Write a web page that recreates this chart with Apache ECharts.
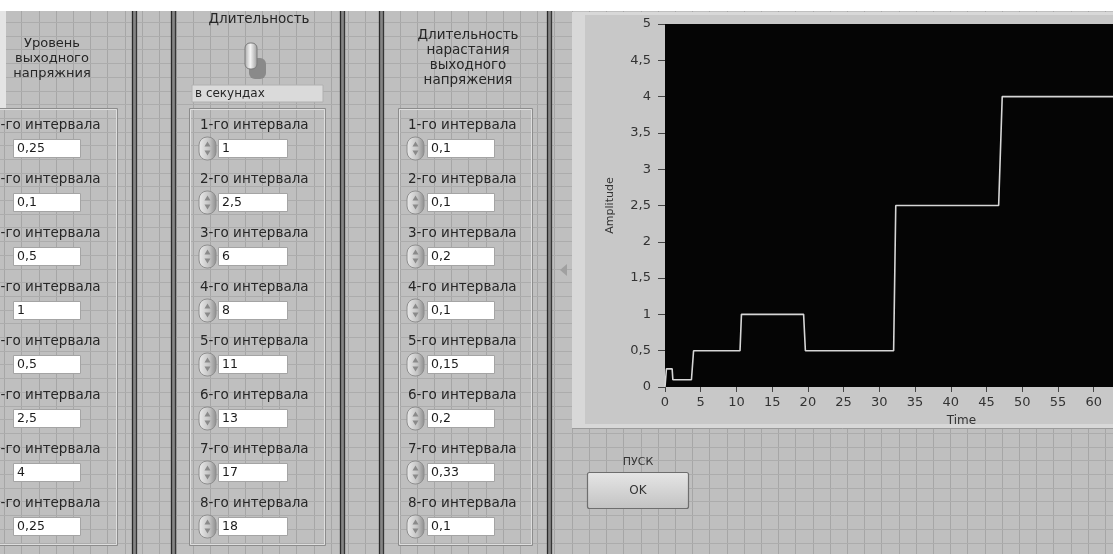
<!DOCTYPE html>
<html><head><meta charset="utf-8">
<script src="https://cdn.jsdelivr.net/npm/echarts@6/dist/echarts.min.js"></script>
<style>html,body{margin:0;padding:0;background:#fff}#c{width:1113px;height:554px}</style>
</head><body><div id="c"></div>
<script>
// ---- data ----
const timeValues      = [0, 0.2, 1.0, 1.1, 3.7, 4.0, 10.5, 10.7, 19.4, 19.65, 32.0, 32.3, 46.7, 47.2, 64.3, 64.4, 83];
const amplitudeValues = [0, 0.25, 0.25, 0.1, 0.1, 0.5, 0.5, 1, 1, 0.5, 0.5, 2.5, 2.5, 4, 4, 0.25, 0.25];
const intervalLabels  = ['1-го интервала','2-го интервала','3-го интервала','4-го интервала','5-го интервала','6-го интервала','7-го интервала','8-го интервала'];
const levelValues     = ['0,25','0,1','0,5','1','0,5','2,5','4','0,25'];
const durationValues  = ['1','2,5','6','8','11','13','17','18'];
const riseValues      = ['0,1','0,1','0,2','0,1','0,15','0,2','0,33','0,1'];
const levelTitle      = 'Уровень\nвыходного\nнапряжния';
const durationTitle   = 'Длительность';
const unitText        = 'в секундах';
const riseTitle       = 'Длительность\nнарастания\nвыходного\nнапряжения';
const startLabel      = 'ПУСК';
const okLabel         = 'OK';
const xName = 'Time', yName = 'Amplitude';

const W = 1113, H = 554;
const FONT = '"DejaVu Sans", Verdana, sans-serif';
const g = [];
// background
g.push({type:'rect',silent:true,z:-30,shape:{x:0,y:0,width:W,height:H},style:{fill:'#ffffff'}});
g.push({type:'rect',silent:true,z:-29,shape:{x:0,y:11,width:W,height:H-11},style:{fill:'#bfbfbf'}});
for (let x = 4.1; x < W; x += 17.2) {
  const px = Math.round(x) + 0.5;
  g.push({type:'line',silent:true,z:-28,shape:{x1:px,y1:11,x2:px,y2:H},style:{stroke:'#a6a6a6',lineWidth:1}});
}
for (let y = 22; y < H; y += 13.7) {
  const py = Math.round(y) + 0.5;
  g.push({type:'line',silent:true,z:-28,shape:{x1:0,y1:py,x2:W,y2:py},style:{stroke:'#acacac',lineWidth:1}});
}
g.push({type:'rect',silent:true,z:-27,shape:{x:0,y:11,width:6,height:97},style:{fill:'#e4e4e4'}});

// dividers
[132, 171, 340, 379, 547].forEach(x => {
  g.push({type:'rect',silent:true,z:-26,shape:{x:x,y:11,width:5,height:H-11},style:{fill:'#858585'}});
  g.push({type:'line',silent:true,z:-25,shape:{x1:x+0.5,y1:11,x2:x+0.5,y2:H},style:{stroke:'#2a2a2a',lineWidth:1.3}});
  g.push({type:'line',silent:true,z:-25,shape:{x1:x+4.5,y1:11,x2:x+4.5,y2:H},style:{stroke:'#353535',lineWidth:1.3}});
});

// cluster boxes
function box(x1, x2) {
  g.push({type:'rect',silent:true,z:-24,shape:{x:x1+0.5,y:108.5,width:x2-x1,height:437},style:{fill:'none',stroke:'#8c8c8c',lineWidth:1}});
  g.push({type:'rect',silent:true,z:-24,shape:{x:x1+1.5,y:109.5,width:x2-x1-2,height:435},style:{fill:'none',stroke:'#dedede',lineWidth:1}});
}
box(-3, 117); box(189, 325); box(398, 532);

function txt(x, y, s, opt) {
  g.push(Object.assign({type:'text',silent:true,z:-20,x:x,y:y,style:Object.assign({text:s,font:'13px '+FONT,fill:'#262626',align:'left',verticalAlign:'middle',lineHeight:15},opt||{})}));
}
txt(52, 59, levelTitle, {align:'center'});
txt(259, 19, durationTitle, {align:'center', font:'13.5px '+FONT});
txt(468, 58, riseTitle, {align:'center', font:'13.5px '+FONT});

// toggle switch
g.push({type:'rect',silent:true,z:-21,shape:{x:249,y:58,width:17,height:21,r:6},style:{fill:'#8a8a8a'}});
g.push({type:'rect',silent:true,z:-20,shape:{x:245,y:43,width:12,height:26,r:5},style:{fill:{type:'linear',x:0,y:0,x2:1,y2:0,colorStops:[{offset:0,color:'#a8a8a8'},{offset:0.45,color:'#f4f4f4'},{offset:1,color:'#9a9a9a'}]},stroke:'#7a7a7a',lineWidth:1}});
// unit field
g.push({type:'rect',silent:true,z:-20,shape:{x:192,y:85,width:131,height:17},style:{fill:'#dadada',stroke:'#b0b0b0',lineWidth:1}});
txt(195, 94, unitText, {font:'12px '+FONT});

function field(x, w, y, s) {
  g.push({type:'rect',silent:true,z:-20,shape:{x:x+0.5,y:y+0.5,width:w,height:18},style:{fill:'#ffffff',stroke:'#a4a4a4',lineWidth:1}});
  txt(x+4, y+10, s, {font:'12.5px '+FONT,fill:'#1c1c1c'});
}
function spin(x, y) {
  const cx = x + 8.5, cy = y + 9.5;
  g.push({type:'rect',silent:true,z:-20,shape:{x:x,y:y-2,width:17,height:23,r:8},style:{fill:{type:'linear',x:0,y:0,x2:1,y2:0,colorStops:[{offset:0,color:'#ececec'},{offset:0.6,color:'#c4c4c4'},{offset:1,color:'#8c8c8c'}]},stroke:'#8e8e8e',lineWidth:1}});
  g.push({type:'polygon',silent:true,z:-19,shape:{points:[[cx-3,cy-2],[cx+3,cy-2],[cx,cy-7]]},style:{fill:'#8a8a8a'}});
  g.push({type:'polygon',silent:true,z:-19,shape:{points:[[cx-3,cy+2],[cx+3,cy+2],[cx,cy+7]]},style:{fill:'#8a8a8a'}});
}
for (let i = 0; i < 8; i++) {
  const ly = 125 + i * 54;
  const fy = ly + 14;
  txt(-8, ly, intervalLabels[i], {font:'13.5px '+FONT});
  field(13, 67, fy, levelValues[i]);
  txt(200, ly, intervalLabels[i], {font:'13.5px '+FONT});
  spin(199, fy); field(218, 69, fy, durationValues[i]);
  txt(408, ly, intervalLabels[i], {font:'13.5px '+FONT});
  spin(407, fy); field(427, 67, fy, riseValues[i]);
}

// graph frame
g.push({type:'rect',silent:true,z:-18,shape:{x:572,y:12,width:W,height:416},style:{fill:'#d8d8d8'}});
g.push({type:'rect',silent:true,z:-17,shape:{x:585,y:15,width:W,height:409},style:{fill:'#c8c8c8'}});
g.push({type:'line',silent:true,z:-17,shape:{x1:572,y1:428.5,x2:W,y2:428.5},style:{stroke:'#9a9a9a',lineWidth:1}});
g.push({type:'polygon',silent:true,z:-17,shape:{points:[[560,270],[567,264],[567,276]]},style:{fill:'#a0a0a0'}});

// start button
txt(638, 462, startLabel, {align:'center',font:'11px '+FONT,fill:'#333'});
g.push({type:'rect',silent:true,z:-20,shape:{x:587.5,y:472.5,width:101,height:36,r:2},style:{fill:{type:'linear',x:0,y:0,x2:0,y2:1,colorStops:[{offset:0,color:'#e6e6e6'},{offset:1,color:'#c2c2c2'}]},stroke:'#6e6e6e',lineWidth:1.2}});
txt(638, 491, okLabel, {align:'center',font:'12px '+FONT,fill:'#333'});

const chart = echarts.init(document.getElementById('c'), null, {renderer:'canvas'});
const fmt = v => String(v).replace('.', ',');
chart.setOption({
  animation: false,
  graphic: {elements: g},
  grid: {left: 665, top: 24, width: 593, height: 363, outerBoundsMode: 'none', show: true, backgroundColor: '#050505', borderWidth: 0, containLabel: false},
  xAxis: {
    type: 'value', min: 0, max: 83, interval: 5,
    name: xName, nameLocation: 'middle', nameGap: 25,
    nameTextStyle: {fontFamily: FONT, fontSize: 12, color: '#333'},
    offset: 3,
    axisLine: {show: false},
    axisTick: {show: true, length: 5, lineStyle: {color: '#444', width: 1}},
    axisLabel: {margin: 6, fontFamily: FONT, fontSize: 13, color: '#333', formatter: fmt},
    splitLine: {show: false}
  },
  yAxis: {
    type: 'value', min: 0, max: 5, interval: 0.5,
    name: yName, nameLocation: 'middle', nameGap: 46, nameRotate: 90,
    nameTextStyle: {fontFamily: FONT, fontSize: 11, color: '#333'},
    offset: 3,
    axisLine: {show: false},
    axisTick: {show: true, length: 7, lineStyle: {color: '#444', width: 1}},
    axisLabel: {margin: 11, fontFamily: FONT, fontSize: 13, color: '#333', formatter: fmt},
    splitLine: {show: false}
  },
  series: [{
    type: 'line', showSymbol: false, symbol: 'none',
    data: timeValues.map((t, i) => [t, amplitudeValues[i]]),
    lineStyle: {color: '#d6d6d6', width: 1.6},
    clip: true
  }]
});
</script></body></html>
